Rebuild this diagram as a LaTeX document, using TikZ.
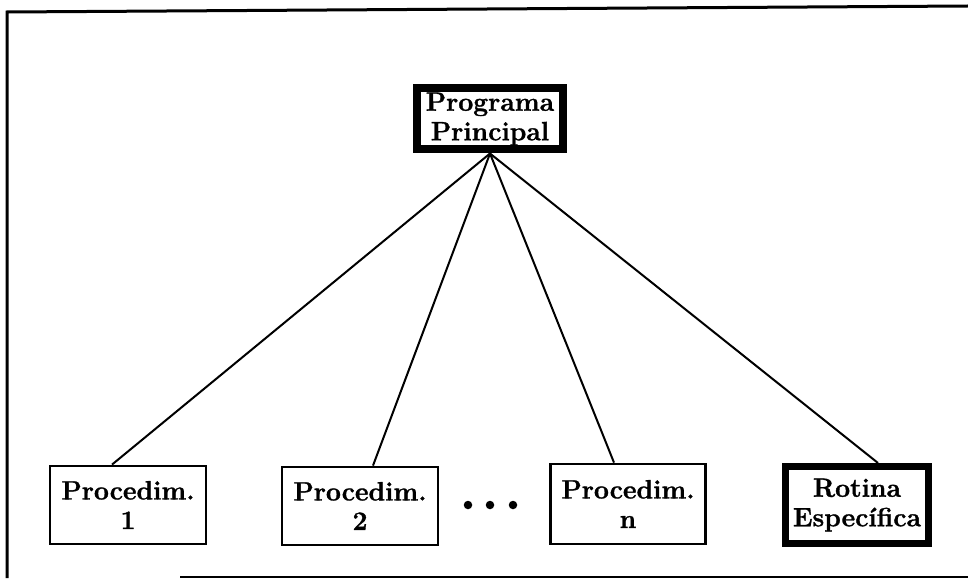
\documentclass[tikz,border=0pt]{standalone}
\usepackage{fontspec}
\newfontfamily\heavyfont{Latin Modern Roman}[FakeBold=1.2]
\begin{document}
\begin{tikzpicture}[x=1pt,y=-1pt,
  lbl/.style={font=\heavyfont\bfseries\fontsize{26.5}{29.5}\selectfont, align=center, inner sep=0pt},
  procbox/.style={lbl, draw, line width=2.8pt, minimum width=156pt, minimum height=78pt},
  heavybox/.style={lbl, draw, line width=8pt},
  link/.style={line width=2pt},
  frame/.style={line width=3pt},
  dot/.style={circle, fill, inner sep=0pt, minimum size=8.5pt}]
\useasboundingbox (0,0) rectangle (968,580);

% outer frame (left, top and bottom edges)
\coordinate (ftl) at (7,12);
\coordinate (ftr) at (968,6);
\coordinate (fbl) at (7,578);
\coordinate (fbs) at (180,577);
\coordinate (fbr) at (968,577);
\draw[frame] (fbl) -- (ftl) -- (ftr);
\draw[frame, line width=2pt] (fbs) -- (fbr);

% main program
\node[heavybox, minimum width=146pt, minimum height=61pt] (pp) at (490,119) {Programa\\Principal};

% procedures
\node[procbox] (p1) at (128,505) {Procedim.\\1};
\node[procbox] (p2) at (360,506) {Procedim.\\2};
\node[procbox, minimum width=155pt, minimum height=80pt] (pn) at (628,504) {Procedim.\\n};
\node[heavybox, line width=7pt, minimum width=143pt, minimum height=77pt] (re) at (857,505) {Rotina\\Espec\'{\i}fica};

% ellipsis between the procedures
\node[dot] (d1) at (468,505) {};
\node[dot] (d2) at (490,505) {};
\node[dot] (d3) at (513,505) {};

% connectors
\draw[link] (pp.south) -- ([xshift=-16pt]p1.north);
\draw[link] (pp.south) -- ([xshift=13pt]p2.north);
\draw[link] (pp.south) -- ([xshift=-14pt]pn.north);
\draw[link] (pp.south) -- ([xshift=21pt]re.north);
\end{tikzpicture}
\end{document}
